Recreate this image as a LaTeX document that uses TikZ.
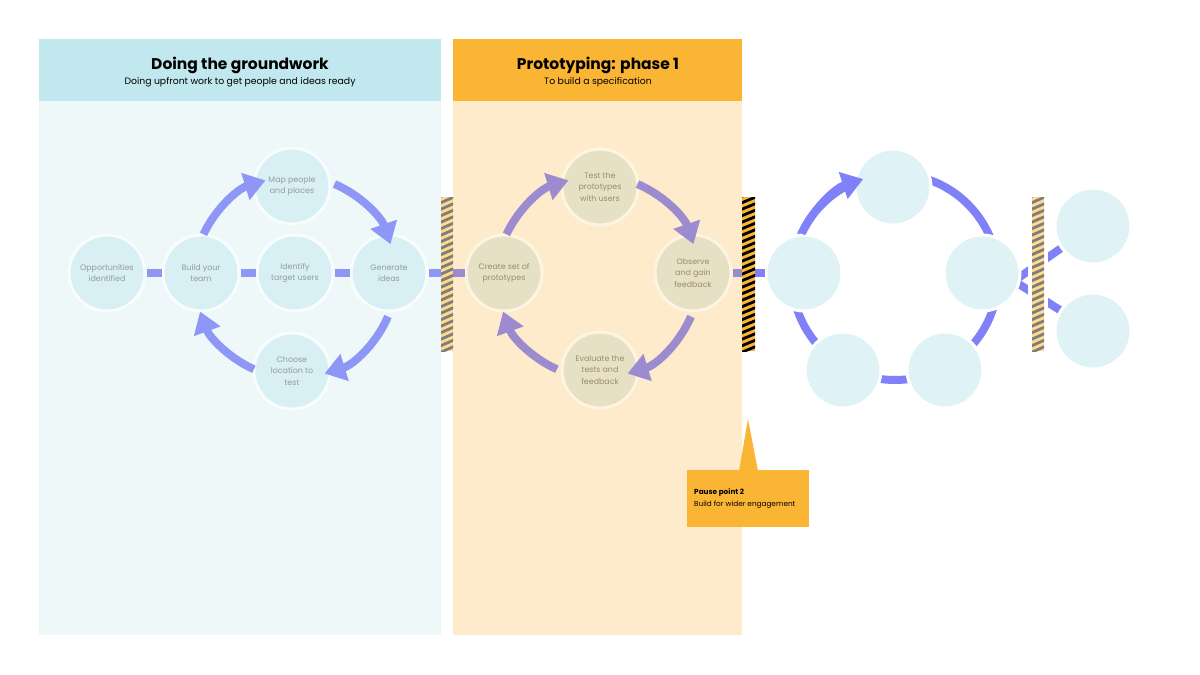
\documentclass[tikz,border=0pt]{standalone}
\usepackage{fontspec}
\setmainfont{Poppins}
\usetikzlibrary{arrows.meta}
\definecolor{cAhead}{HTML}{C2E8EF}
\definecolor{cAbg}{HTML}{EEF8F9}
\definecolor{cAcirc}{HTML}{D8EFF3}
\definecolor{cAtext}{HTML}{929DA0}
\definecolor{cAarr}{HTML}{8F97F6}
\definecolor{cBhead}{HTML}{FBB534}
\definecolor{cBbg}{HTML}{FDEBCB}
\definecolor{cBcirc}{HTML}{E6E1C4}
\definecolor{cBtext}{HTML}{9C8B6B}
\definecolor{cBarr}{HTML}{9D8BD0}
\definecolor{cCcirc}{HTML}{DFF2F6}
\definecolor{cCarr}{HTML}{8080F8}
\definecolor{hatchY}{HTML}{FFD98C}
\definecolor{hatchG}{HTML}{7E7E7E}
\begin{document}
\begin{tikzpicture}[x=1pt,y=-1pt,
  circA/.style={circle, fill=cAcirc, draw=white!55!cAbg, line width=3pt, minimum size=76pt, inner sep=0pt, align=center, text=cAtext, font=\fontsize{7.9}{11.3}\selectfont},
  circB/.style={circA, fill=cBcirc, draw=white!45!cBbg, text=cBtext},
  circC/.style={circA, fill=cCcirc, draw=white},
  linkA/.style={line width=8pt, cAarr},
  linkB/.style={line width=8pt, cBarr},
  linkC/.style={line width=8pt, cCarr},
  arrA/.style={linkA, -{Triangle[length=21pt,width=27pt]}},
  arrB/.style={linkB, -{Triangle[length=21pt,width=27pt]}},
  arrC/.style={linkC, -{Triangle[length=21pt,width=27pt]}},
  ttl/.style={anchor=base, font=\fontsize{15.5}{18}\selectfont\bfseries},
  sub/.style={anchor=base, font=\fontsize{9.3}{11}\selectfont},
]
\useasboundingbox (0,0) rectangle (1200,675);
\fill[white] (0,0) rectangle (1200,675);

% panels
\fill[cAbg] (39,39) rectangle (441,635);
\fill[cAhead] (39,39) rectangle (441,101);
\fill[cBbg] (453,39) rectangle (742,635);
\fill[cBhead] (453,39) rectangle (742,101);
\node[ttl] (t1) at (240,69) {Doing the groundwork};
\node[sub] (s1) at (240,84.5) {Doing upfront work to get people and ideas ready};
\node[ttl] (t2) at (598,69) {Prototyping: phase 1};
\node[sub] (s2) at (598,84) {To build a specification};

% ring centres and junctions
\coordinate (C1) at (295,277);
\coordinate (C2) at (598,277);
\coordinate (C3) at (895,277);
\coordinate (barA) at (447,273);
\coordinate (barB) at (748.5,273);
\coordinate (J) at (1014,281);
\coordinate (ptr) at (1093,226);
\coordinate (pbr) at (1093,331);

% panel 3 ring and fan (under circles)
\draw[linkC] (C3) circle[radius=103];
\draw[linkC, line join=miter] (ptr) -- (J) -- (pbr);

% panel 1 circles
\node[circA] (opp) at (107,273) {Opportunities\\identified};
\node[circA] (team) at (201,273) {Build your\\team};
\node[circA] (users) at (295,273) {Identify\\target users};
\node[circA] (ideas) at (389,273) {Generate\\ideas};
\node[circA] (map) at (292,186) {Map people\\and places};
\node[circA] (loc) at (292,371) {Choose\\location to\\test};

% panel 2 circles
\node[circB] (create) at (504,273) {Create set of\\prototypes};
\node[circB] (test) at (600,187) {Test the\\prototypes\\with users};
\node[circB] (obs) at (693,273) {Observe\\and gain\\feedback};
\node[circB] (eval) at (600,370) {Evaluate the\\tests and\\feedback};

% panel 3 circles
\node[circC] (p3l) at (804,273) {};
\node[circC] (p3t) at (893,187) {};
\node[circC] (p3r) at (982,273) {};
\node[circC] (p3bl) at (843,370) {};
\node[circC] (p3br) at (945,370) {};
\node[circC] (p4t) at (ptr) {};
\node[circC] (p4b) at (pbr) {};

% straight connectors
\draw[linkA] (opp) -- (team);
\draw[linkA] (team) -- (users);
\draw[linkA] (users) -- (ideas);
\draw[linkA] (ideas) -- (barA);
\draw[linkB] (barA) -- (create);
\draw[linkB] (obs) -- (barB);
\draw[linkC] (barB) -- (p3l);

% loop arrows panel 1
\draw[arrA] ([shift={(205:101)}]C1) arc[start angle=205, end angle=253, radius=101];
\draw[arrA] ([shift={(293:101)}]C1) arc[start angle=293, end angle=341, radius=101];
\draw[arrA] ([shift={(23:101)}]C1) arc[start angle=23, end angle=73, radius=101];
\draw[arrA] ([shift={(114:101)}]C1) arc[start angle=114, end angle=160, radius=101];
% loop arrows panel 2
\draw[arrB] ([shift={(205:101)}]C2) arc[start angle=205, end angle=253, radius=101];
\draw[arrB] ([shift={(293:101)}]C2) arc[start angle=293, end angle=341, radius=101];
\draw[arrB] ([shift={(23:101)}]C2) arc[start angle=23, end angle=73, radius=101];
\draw[arrB] ([shift={(114:101)}]C2) arc[start angle=114, end angle=160, radius=101];
% arrow panel 3
\draw[arrC] ([shift={(205:103)}]C3) arc[start angle=205, end angle=252, radius=103];

% hatched bars
\fill[hatchY] (441,197) rectangle (453,351);
\begin{scope}
\clip (441,197) rectangle (453,351);
\foreach \i in {-2,...,26} \draw[hatchG, line width=2.8pt] (439,197+\i*6.5) -- (455,197+\i*6.5-7);
\end{scope}
\fill[cBhead] (742,197) rectangle (755,351);
\begin{scope}
\clip (742,197) rectangle (755,351);
\foreach \i in {-2,...,26} \draw[black, line width=2.8pt] (740,197+\i*6.5) -- (757,197+\i*6.5-7);
\end{scope}
\fill[white] (1028,193) rectangle (1048,355);
\fill[hatchY] (1032,197) rectangle (1044,351);
\begin{scope}
\clip (1032,197) rectangle (1044,351);
\foreach \i in {-2,...,26} \draw[hatchG, line width=2.8pt] (1030,197+\i*6.5) -- (1046,197+\i*6.5-7);
\end{scope}

% pause point callout
\fill[cBhead] (687,470) rectangle (809,527);
\fill[cBhead] (739,471) -- (748,419) -- (758,471) -- cycle;
\node[anchor=base west, font=\fontsize{7.3}{9}\selectfont\bfseries, inner sep=0pt] (pp) at (694,494) {Pause point 2};
\node[anchor=base west, font=\fontsize{7.3}{9}\selectfont, inner sep=0pt] (pt) at (694,506) {Build for wider engagement};
\end{tikzpicture}
\end{document}
